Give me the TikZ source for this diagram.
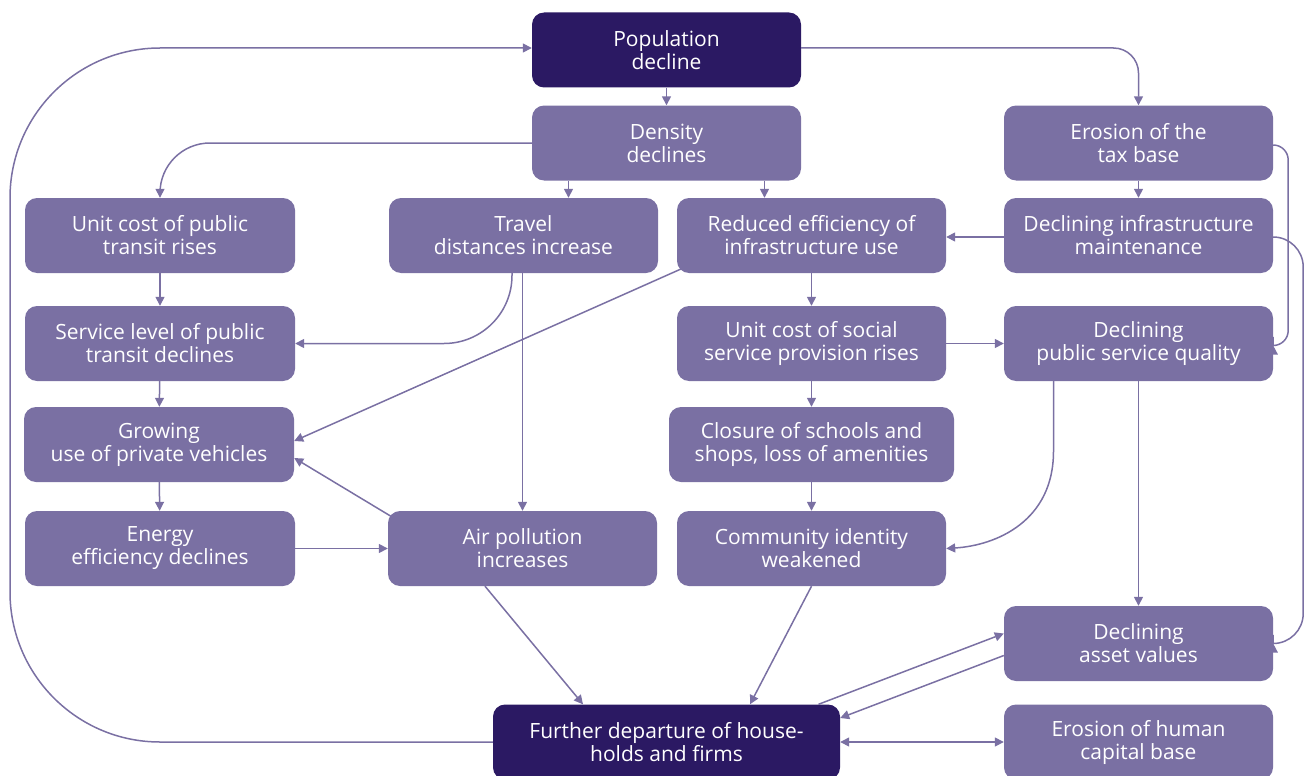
\documentclass[tikz,border=0pt]{standalone}
\usepackage{fontspec}
\setmainfont{Open Sans}
\usetikzlibrary{arrows.meta}
\definecolor{darkplum}{HTML}{2B1963}
\definecolor{lightplum}{HTML}{7A70A3}

\begin{document}
\begin{tikzpicture}[
  x=1pt, y=-1pt,
  box/.style={rounded corners=12pt, fill=lightplum, text=white, minimum width=269pt,
    minimum height=75pt, inner sep=0pt, align=center, font=\fontsize{21}{23}\selectfont},
  keybox/.style={box, fill=darkplum},
  link/.style={draw=lightplum, line width=1.5pt, -{Triangle[length=9pt,width=9pt]}},
  twoway/.style={link, {Triangle[length=9pt,width=9pt]}-{Triangle[length=9pt,width=9pt]}}
]
\useasboundingbox (0,0) rectangle (1307,776);

% Top: population and density
\node[keybox] (pop) at (666.5,50) {Population\\decline};
\node[box] (dens) at (666.5,143) {Density\\declines};
\node[box] (tax) at (1138.5,143) {Erosion of the\\tax base};

% Row 2
\node[box, minimum width=270pt] (ucost) at (160,235.5) {Unit cost of public\\transit rises};
\node[box] (travel) at (523.5,235.5) {Travel\\distances increase};
\node[box] (reduced) at (811.5,235.5) {Reduced efficiency of\\infrastructure use};
\node[box] (maint) at (1138.5,235.5) {Declining infrastructure\\maintenance};

% Row 3
\node[box, minimum width=270pt] (service) at (160,343.5) {Service level of public\\transit declines};
\node[box] (social) at (811.5,343.5) {Unit cost of social\\service provision rises};
\node[box] (quality) at (1138.5,343.5) {Declining\\public service quality};

% Row 4
\node[box, minimum width=270pt] (private) at (159,444.5) {Growing\\use of private vehicles};
\node[box, minimum width=285pt] (closure) at (811.5,444.5) {Closure of schools and\\shops, loss of amenities};

% Row 5
\node[box, minimum width=270pt] (energy) at (160,548.5) {Energy\\efficiency declines};
\node[box] (air) at (522.5,548.5) {Air pollution\\increases};
\node[box] (identity) at (811.5,548.5) {Community identity\\weakened};
\node[box] (asset) at (1138.5,643.5) {Declining\\asset values};

% Bottom
\node[keybox, minimum width=347pt] (depart) at (666.5,742) {Further departure of house-\\holds and firms};
\node[box] (human) at (1138.5,742) {Erosion of human\\capital base};

% Links from the top
\draw[link] (pop) -- (dens);
\draw[link, rounded corners=25pt] ([yshift=2pt]pop.east) -| (tax.north);
\draw[link, rounded corners=150pt] (depart.west) -| (10,400) |- ([yshift=2pt]pop.west);
\draw[link, rounded corners=50pt] (dens.west) -| (ucost.north);
\draw[link] ([xshift=-98pt]dens.south) -- ([xshift=-98pt]dens.south |- travel.north);
\draw[link] ([xshift=98pt]dens.south) -- ([xshift=98pt]dens.south |- reduced.north);
\draw[link] (tax) -- (maint);
\draw[link, rounded corners=15pt] ([yshift=-2pt]tax.east) -- ++(15,0) |- ([yshift=-2pt]quality.east);

% Infrastructure side
\draw[link] ([yshift=-1.5pt]maint.west) -- ([yshift=-1.5pt]reduced.east);
\draw[link, rounded corners=30pt] ([yshift=-1.5pt]maint.east) -- ++(30,0) |- (asset.east);
\draw[link] (reduced) -- (social);
\draw[link] (social) -- (quality);
\draw[link] (social) -- (closure);
\draw[link] (closure) -- (identity);
\draw[link] ([xshift=-85pt]quality.south) -- ++(0,70)
  .. controls ([xshift=-85pt,yshift=-140pt]quality.south) and ([xshift=50pt,yshift=3pt]identity.east) .. (identity.east);
\draw[link] (quality) -- (asset);
\draw[link] ([xshift=6pt,yshift=5pt]reduced.south west) -- ([yshift=3.5pt]private.east);

% Transit side
\draw[link] (ucost) -- (service);
\draw[link, rounded corners=68pt] ([xshift=-11.5pt]travel.south) |- (service.east);
\draw[link] ([xshift=-1pt]travel.south) -- ([xshift=-1pt]travel.south |- air.north);
\draw[link] (service) -- (private);
\draw[link] (private) -- (energy);
\draw[link] (energy) -- (air);
\draw[link] ([xshift=4pt,yshift=-6pt]air.north west) -- ([yshift=-13.5pt]private.east);

% Towards further departure
\draw[link] ([xshift=-37.5pt]air.south) -- ([xshift=-83.5pt]depart.north);
\draw[link] (identity.south) -- ([xshift=83.5pt]depart.north);
\draw[link] ([xshift=152pt]depart.north) -- ([yshift=10pt]asset.west);
\draw[link] ([yshift=-12pt]asset.west) -- ([yshift=24pt]depart.east);
\draw[twoway] (depart.east) -- (human.west);
\end{tikzpicture}
\end{document}
